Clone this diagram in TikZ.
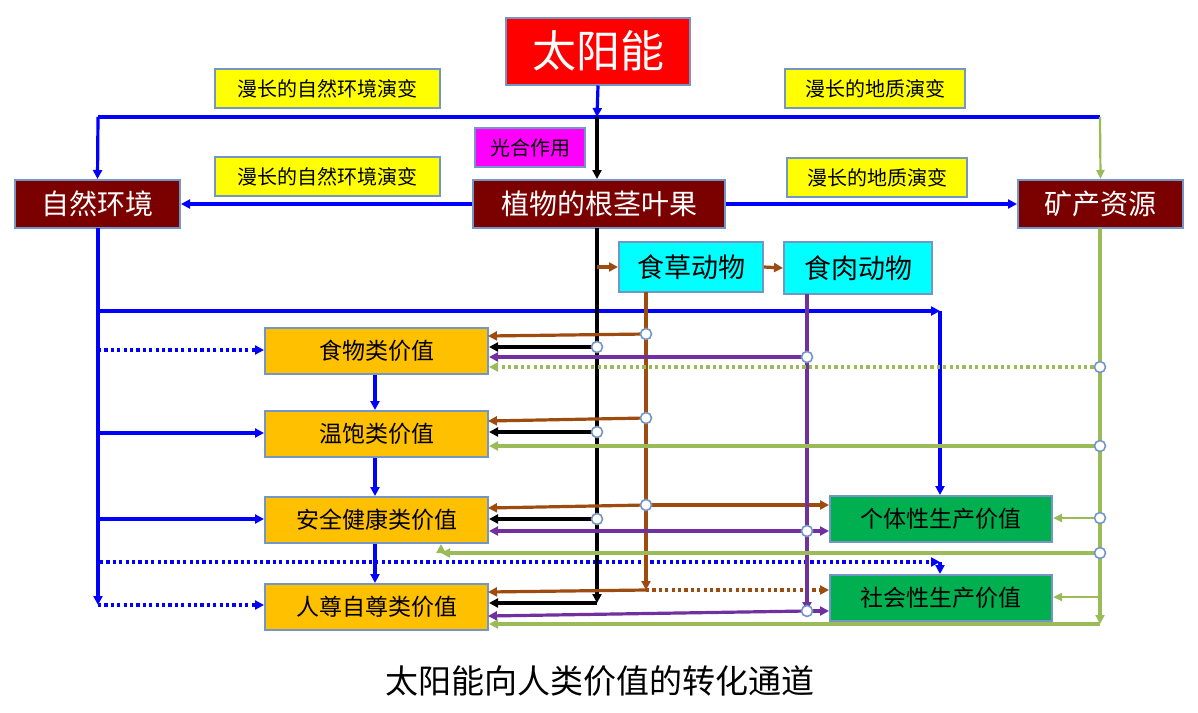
\documentclass[tikz,border=0pt]{standalone}
\usepackage{fontspec}
\setmainfont{Noto Sans CJK SC}
\usetikzlibrary{arrows.meta}
\definecolor{bd}{HTML}{7396C6}
\definecolor{dred}{HTML}{7B0000}
\definecolor{brn}{HTML}{9E4B10}
\definecolor{prp}{HTML}{7030A0}
\definecolor{grn}{HTML}{9BBB59}
\definecolor{org}{HTML}{FFC000}
\definecolor{gbox}{HTML}{00B050}
\definecolor{blu}{HTML}{0000FF}
\definecolor{cy}{HTML}{00FFFF}
\definecolor{mg}{HTML}{FF00FF}
\definecolor{rd}{HTML}{FF0000}
\definecolor{yl}{HTML}{FFFF00}
\tikzset{
  box/.style={draw=bd, line width=2pt, inner sep=0pt, align=center},
  lab/.style={box, fill=yl, minimum height=39pt, font=\fontsize{20}{22}\selectfont},
  dark/.style={box, fill=dred, text=white, minimum height=48pt, font=\fontsize{28}{30}\selectfont},
  animal/.style={box, fill=cy, minimum height=50pt, font=\fontsize{27}{29}\selectfont},
  val/.style={box, fill=org, minimum width=223pt, minimum height=46pt, font=\fontsize{23}{25}\selectfont},
  prod/.style={box, fill=gbox, minimum width=222pt, minimum height=46pt, font=\fontsize{23}{25}\selectfont},
  ar/.style={-{Triangle[length=9pt,width=9pt]}, line width=3.2pt},
  ln/.style={line width=3.2pt},
  thinar/.style={-{Triangle[length=9pt,width=8pt]}, line width=2.2pt},
  dots/.style={dash pattern=on 3.2pt off 3.2pt},
  circ/.style={circle, draw=bd, fill=white, line width=1.6pt, minimum size=11pt, inner sep=0pt}
}
\begin{document}
\begin{tikzpicture}[x=1pt,y=-1pt]
\useasboundingbox (0,0) rectangle (1198,712);
% nodes
\node[box, fill=rd, text=white, minimum width=184pt, minimum height=67pt, font=\fontsize{44}{46}\selectfont] (sun) at (598,51) {太阳能};
\node[lab, minimum width=225pt] (lab1) at (327.5,88.5) {漫长的自然环境演变};
\node[lab, minimum width=180pt] (lab2) at (875,88.5) {漫长的地质演变};
\node[lab, minimum width=225pt] (lab3) at (327.5,176.5) {漫长的自然环境演变};
\node[lab, minimum width=180pt] (lab4) at (877,177.5) {漫长的地质演变};
\node[box, fill=mg, minimum width=110pt, minimum height=39pt, font=\fontsize{20}{22}\selectfont] (gh) at (530,147.5) {光合作用};
\node[dark, minimum width=165pt] (ziran) at (97.5,204) {自然环境};
\node[dark, minimum width=252pt] (zhiwu) at (599,204) {植物的根茎叶果};
\node[dark, minimum width=165pt] (kuang) at (1100.5,204) {矿产资源};
\node[animal, minimum width=144pt] (cao) at (691,267) {食草动物};
\node[animal, minimum width=148pt, minimum height=52pt] (rou) at (858,268) {食肉动物};
\node[val] (v1) at (376.5,351) {食物类价值};
\node[val] (v2) at (376.5,434) {温饱类价值};
\node[val] (v3) at (376.5,520) {安全健康类价值};
\node[val] (v4) at (376.5,607) {人尊自尊类价值};
\node[prod] (p1) at (941,519) {个体性生产价值};
\node[prod] (p2) at (941,598) {社会性生产价值};
\node[font=\fontsize{33}{35}\selectfont] (title) at (600,681) {太阳能向人类价值的转化通道};
% coordinates
\coordinate (bL) at (98,117);
\coordinate (bM) at (597,117);
\coordinate (bR) at (1100,117);
\coordinate (k0) at (597,228);
\coordinate (k1) at (597,347);
\coordinate (k2) at (597,432);
\coordinate (k3) at (597,519);
\coordinate (k4) at (597,603);
\coordinate (kc) at (597,267);
\coordinate (c0) at (646,292);
\coordinate (c1) at (646,334);
\coordinate (c2) at (646,418);
\coordinate (c3) at (646,505);
\coordinate (c4) at (646,590);
\coordinate (r0) at (807,294);
\coordinate (r1) at (807,357);
\coordinate (r2) at (807,531);
\coordinate (r3) at (807,611);
\coordinate (g0) at (1100,228);
\coordinate (g1) at (1100,367);
\coordinate (g2) at (1100,446);
\coordinate (g3) at (1100,518);
\coordinate (g4) at (1100,553);
\coordinate (g6) at (1100,597);
\coordinate (g5) at (1100,624);
\coordinate (gA) at (441,553);
\coordinate (l0) at (98,228);
\coordinate (l1) at (98,311);
\coordinate (l2) at (98,350);
\coordinate (l3) at (98,433);
\coordinate (l4) at (98,519);
\coordinate (l5) at (100,562);
\coordinate (l6) at (98,605);
\coordinate (t1) at (940,311);
\coordinate (t2) at (940,562);
% top blue
\draw[ln, blu] (bL) -- (bR);
\draw[ar, blu] (sun.south) -- (bM);
\draw[ar, blu] (bL) -- (ziran.north);
\draw[thinar, grn] (bR) -- (kuang.north);
\draw[ar, black] (bM) -- (bM |- zhiwu.north);
\draw[ar, blu] (zhiwu.west) -- (ziran.east);
\draw[ar, blu] (zhiwu.east) -- (kuang.west);
% left blue spine
\draw[ar, blu] (l0) -- (l6);
\draw[ar, blu, dots] (l6) -- (v4.west |- l6);
\draw[ar, blu] (l1) -- (t1);
\draw[ar, blu] (t1) -- (p1.north -| t1);
\draw[ar, blu, dots] (l2) -- (v1.west |- l2);
\draw[ar, blu] (l3) -- (v2.west |- l3);
\draw[ar, blu] (l4) -- (v3.west |- l4);
\draw[ar, blu, dots] (l5) -- (t2);
\draw[ar, blu] (t2) -- (p2.north -| t2);
% value chain
\draw[ar, blu] (v1.south -| 375,0) -- (v2.north -| 375,0);
\draw[ar, blu] (v2.south -| 375,0) -- (v3.north -| 375,0);
\draw[ar, blu] (v3.south -| 375,0) -- (v4.north -| 375,0);
% black spine
\draw[ar, black] (k0) -- (k4);
\draw[ar, black] (k4) -- (v4.east |- k4);
\draw[ar, black] (k1) -- (v1.east |- k1);
\draw[ar, black] (k2) -- (v2.east |- k2);
\draw[ar, black] (k3) -- (v3.east |- k3);
% brown
\draw[ar, brn] (kc) -- (cao.west);
\draw[ar, brn] (cao.east) -- (rou.west);
\draw[ar, brn] (c0) -- (c4);
\draw[ar, brn] (c1) -- (488,336);
\draw[ar, brn] (c2) -- (488,421);
\draw[ar, brn] (c3) -- (488,508);
\draw[ar, brn] (c3) -- (p1.west |- c3);
\draw[ar, brn] (c4) -- (488,592);
\draw[ar, brn, dots] (c4) -- (p2.west |- c4);
% purple
\draw[ar, prp] (r0) -- (r3);
\draw[ar, prp] (r1) -- (v1.east |- r1);
\draw[ar, prp] (r2) -- (v3.east |- r2);
\draw[ar, prp] (r2) -- (p1.west |- r2);
\draw[ar, prp] (r3) -- (p2.west |- r3);
\draw[ar, prp] (r3) -- (488,616);
% green
\draw[ar, grn] (g0) -- (g5);
\draw[ar, grn] (g5) -- (v4.east |- g5);
\draw[ar, grn, dots] (g1) -- (v1.east |- g1);
\draw[ar, grn] (g2) -- (v2.east |- g2);
\draw[thinar, grn] (g3) -- (p1.east |- g3);
\draw[ar, grn] (g4) -- (gA);
\draw[ar, grn] (gA) -- (v3.south -| gA);
\draw[thinar, grn] (g6) -- (p2.east |- g6);
% junction circles
\foreach \p in {k1,k2,k3,c1,c2,c3,r1,r2,r3,g1,g2,g3,g4}
  \node[circ] at (\p) {};
\end{tikzpicture}
\end{document}
